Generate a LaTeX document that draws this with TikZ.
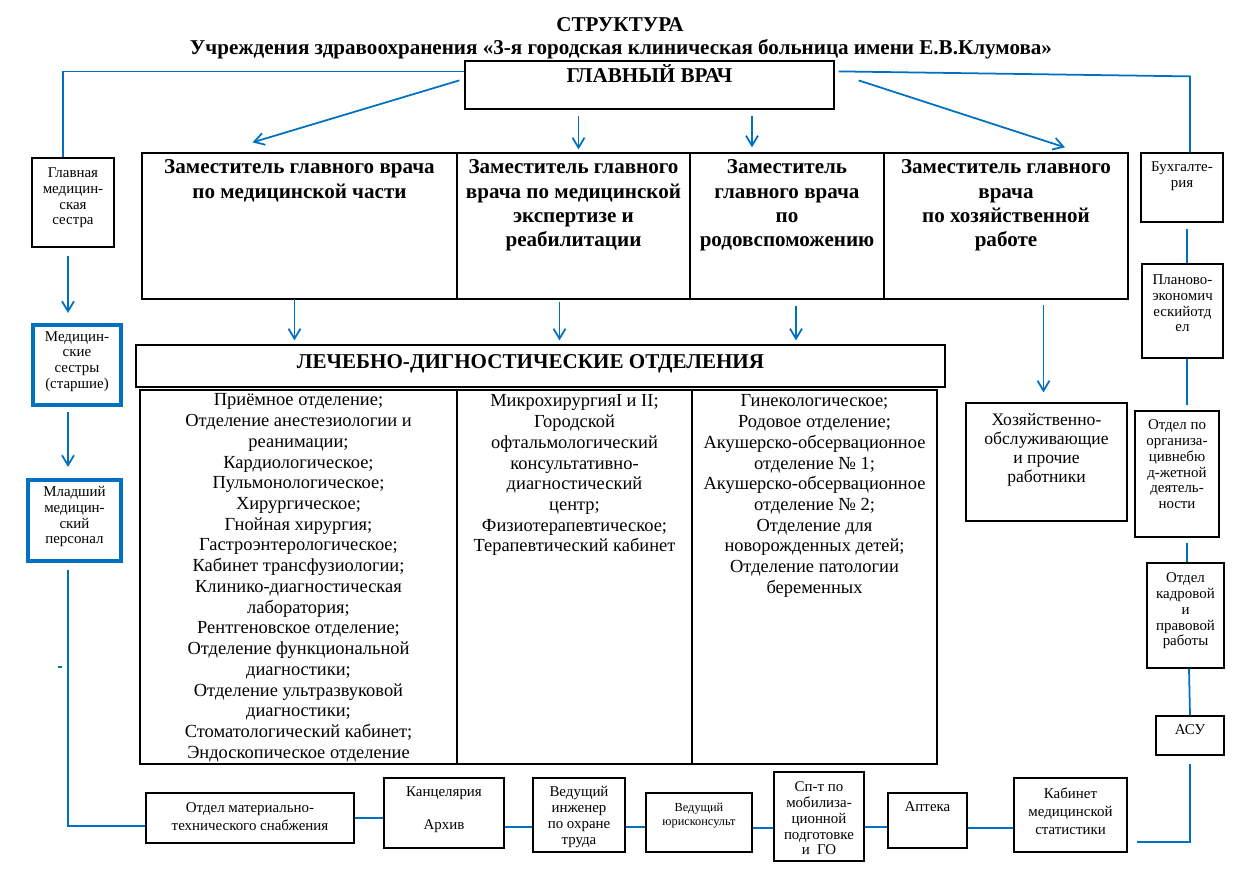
\documentclass[tikz,border=0pt]{standalone}
\usepackage{fontspec}
\setmainfont{Liberation Serif}
\usetikzlibrary{arrows.meta,positioning,fit,calc}
\definecolor{lnblue}{RGB}{0,112,192}
\tikzset{
  bx/.style={draw,line width=0.7pt,inner sep=0pt,align=center},
  tbx/.style={draw=lnblue,line width=2.3pt,inner sep=0pt,align=center},
  tx/.style={inner sep=0pt,align=center},
  ln/.style={draw=lnblue,line width=1pt},
  arr/.style={ln,-{Straight Barb[length=2mm,width=2.4mm]}},
  f12/.style={font=\fontsize{12}{13.9}\selectfont\bfseries},
  f10/.style={font=\fontsize{10.5}{11.8}\selectfont},
  f9/.style={font=\fontsize{10}{10.8}\selectfont},
  sm/.style={font=\fontsize{8.5}{9}\selectfont},
  sml/.style={font=\fontsize{8.5}{10.2}\selectfont},
}
\begin{document}
\begin{tikzpicture}[x=0.02cm,y=-0.02cm]
\useasboundingbox (0,0) rectangle (1251,872);

% title
\node[f12] (t) at (620,25) {СТРУКТУРА};
\node[f12] (st) at (621,49) {Учреждения здравоохранения «3-я городская клиническая больница имени Е.В.Клумова»};

% head physician and deputies
\node[bx,fit={(465,61) (834,109)}] (gv) {};
\node[tx,f12,below=0.08cm of gv.north] (gvt) {ГЛАВНЫЙ ВРАЧ};
\node[bx,fit={(142,153) (457,299)}] (d1) {};
\node[bx,fit={(457,153) (690,299)}] (d2) {};
\node[bx,fit={(690,153) (884,299)}] (d3) {};
\node[bx,fit={(884,153) (1128,299)}] (d4) {};
\node[tx,f12,below=0.14cm of d1.north] (d1t) {Заместитель главного врача\\по медицинской части};
\node[tx,f12,below=0.14cm of d2.north] (d2t) {Заместитель главного\\врача по медицинской\\экспертизе и\\реабилитации};
\node[tx,f12,below=0.14cm of d3.north] (d3t) {Заместитель\\главного врача\\по\\родовспоможению};
\node[tx,f12,below=0.14cm of d4.north] (d4t) {Заместитель главного\\врача\\по хозяйственной\\работе};

% departments
\node[bx,fit={(136,345) (945,387)}] (h) {};
\node[tx,f12,below=0.2cm of h.north,xshift=-0.2cm] (ht) {ЛЕЧЕБНО-ДИГНОСТИЧЕСКИЕ ОТДЕЛЕНИЯ};
\node[bx,fit={(140,390) (457,764)}] (l1) {};
\node[bx,fit={(457,390) (692,764)}] (l2) {};
\node[bx,fit={(692,390) (937,764)}] (l3) {};
\node[tx,f10,below=0.08cm of l1.north] (l1t) {Приёмное отделение;\\Отделение анестезиологии и\\реанимации;\\Кардиологическое;\\Пульмонологическое;\\Хирургическое;\\Гнойная хирургия;\\Гастроэнтерологическое;\\Кабинет трансфузиологии;\\Клинико-диагностическая\\лаборатория;\\Рентгеновское отделение;\\Отделение функциональной\\диагностики;\\Отделение ультразвуковой\\диагностики;\\Стоматологический кабинет;\\Эндоскопическое отделение};
\node[tx,f10,below=0.1cm of l2.north] (l2t) {МикрохирургияI и II;\\Городской\\офтальмологический\\консультативно-\\диагностический\\центр;\\Физиотерапевтическое;\\Терапевтический кабинет};
\node[tx,f10,below=0.1cm of l3.north] (l3t) {Гинекологическое;\\Родовое отделение;\\Акушерско-обсервационное\\отделение № 1;\\Акушерско-обсервационное\\отделение № 2;\\Отделение для\\новорожденных детей;\\Отделение патологии\\беременных};
\node[bx,fit={(966,403) (1127,521)}] (hz) {};
\node[tx,f9,below=0.22cm of hz.north] (hzt) {Хозяйственно-\\обслуживающие\\и прочие\\работники};

% left column
\node[bx,fit={(32,158) (114,247)}] (gms) {};
\node[tx,sm,below=0.2cm of gms.north] (gmst) {Главная\\медицин-\\ская\\сестра};
\node[tbx,fit={(33,325) (121,405)}] (mss) {};
\node[tx,sm,below=0.16cm of mss.north] (msst) {Медицин-\\ские\\сестры\\(старшие)};
\node[tbx,fit={(28,480) (121,561)}] (mlp) {};
\node[tx,sm,below=0.16cm of mlp.north] (mlpt) {Младший\\медицин-\\ский\\персонал};

% right column
\node[bx,fit={(1141,153) (1223,222)}] (bh) {};
\node[tx,sm,below=0.18cm of bh.north] (bht) {Бухгалте-\\рия};
\node[bx,fit={(1142,264) (1223,358)}] (pe) {};
\node[tx,sm,below=0.22cm of pe.north] (pet) {Планово-\\экономич\\ескийотд\\ел};
\node[bx,fit={(1135,411) (1219,537)}] (og) {};
\node[tx,sm,below=0.18cm of og.north] (ogt) {Отдел по\\организа-\\цивнебю\\д-жетной\\деятель-\\ности};
\node[bx,fit={(1147,563) (1224,668)}] (kd) {};
\node[tx,sm,below=0.2cm of kd.north] (kdt) {Отдел\\кадровой\\и\\правовой\\работы};
\node[bx,fit={(1156,716) (1224,755)}] (asu) {};
\node[tx,sm,below=0.18cm of asu.north] (asut) {АСУ};

% bottom row
\node[bx,fit={(146,793) (354,843)}] (mt) {};
\node[tx,sml,below=0.2cm of mt.north] (mtt) {Отдел материально-\\технического снабжения};
\node[bx,fit={(384,778) (504,848)}] (kn) {};
\node[tx,sm,below=0.18cm of kn.north] (knt) {Канцелярия\\[10pt]Архив};
\node[bx,fit={(533,778) (625,852)}] (vi) {};
\node[tx,sm,below=0.18cm of vi.north] (vit) {Ведущий\\инженер\\по охране\\труда};
\node[bx,fit={(646,793) (752,852)}] (yk) {};
\node[tx,font=\fontsize{7}{8.4}\selectfont,below=0.2cm of yk.north] (ykt) {Ведущий\\юрисконсульт};
\node[bx,fit={(774,772) (864,861)}] (sp) {};
\node[tx,sm,below=0.2cm of sp.north] (spt) {Сп-т по\\мобилиза-\\ционной\\подготовке\\и~~ГО};
\node[bx,fit={(888,793) (967,848)}] (ap) {};
\node[tx,sm,below=0.18cm of ap.north] (apt) {Аптека};
\node[bx,fit={(1014,778) (1127,852)}] (ks) {};
\node[tx,sml,below=0.2cm of ks.north] (kst) {Кабинет\\медицинской\\статистики};

% connectors from the head physician
\draw[ln] ($(gv.north west)+(0,11)$) -| ($(gms.north)+(-10,0)$);
\draw[arr] ($(gv.north west)+(-5,20)$) -- ($(d1.north)+(-47,-10)$);
\draw[arr] ($(gv.south -| d2.north)+(5,6)$) -- ($(d2.north)+(5,-3)$);
\draw[arr] ($(gv.south -| d3.north)+(-35,6)$) -- ($(d3.north)+(-35,-5)$);
\draw[arr] ($(gv.north east)+(24,20)$) -- ($(d4.north)+(59,-5)$);
\draw[ln] ($(gv.north east)+(4,11)$) -- ($(bh.north)+(8,-76)$) -- ($(bh.north)+(8,0)$);

% deputies to departments
\draw[arr] ($(d1.south)+(-5,-1)$) -- ($(d1.south |- h.north)+(-5,-4)$);
\draw[arr] ($(d2.south)+(-14,2)$) -- ($(d2.south |- h.north)+(-14,-4)$);
\draw[arr] ($(d3.south)+(9,6)$) -- ($(d3.south |- h.north)+(9,-4)$);
\draw[arr] ($(d4.south -| hz.north)+(-3,5)$) -- ($(hz.north)+(-3,-10)$);

% nursing chain
\draw[arr] ($(gms.south)+(-5,8)$) -- ($(gms.south |- mss.north)+(-5,-10)$);
\draw[arr] ($(mss.south)+(-9,5)$) -- ($(mss.south |- mlp.north)+(-9,-11)$);
\draw[ln] ($(mlp.south)+(-6.5,7)$) |- ($(mt.west)+(0,8)$);
\draw[ln,line width=0.6pt] (58,667) -- (62,667);

% right column chain
\draw[ln] ($(bh.south)+(5,6)$) -- ($(bh.south |- pe.north)+(5,0)$);
\draw[ln] ($(pe.south)+(4.5,0)$) -- ($(pe.south |- og.north)+(4.5,-5)$);
\draw[ln] ($(og.south)+(10,5)$) -- ($(og.south |- kd.north)+(10,0)$);
\draw[ln] ($(kd.south)+(3.5,0)$) -- (asu.north);
\draw[ln] ($(asu.south)+(0,8)$) |- ($(ks.east)+(9,27)$);

% bottom row
\draw[ln] (mt.east) -- (mt.east -| kn.west);
\draw[ln] ($(kn.east)+(0,14)$) -- ($(kn.east -| vi.west)+(0,14)$);
\draw[ln] ($(vi.east)+(0,12)$) -- ($(vi.east -| yk.west)+(0,12)$);
\draw[ln] ($(yk.east)+(0,5.5)$) -- ($(yk.east -| sp.west)+(0,5.5)$);
\draw[ln] ($(sp.east)+(0,10.5)$) -- ($(sp.east -| ap.west)+(0,10.5)$);
\draw[ln] ($(ap.east)+(0,7.5)$) -- ($(ap.east -| ks.west)+(0,7.5)$);
\end{tikzpicture}
\end{document}
